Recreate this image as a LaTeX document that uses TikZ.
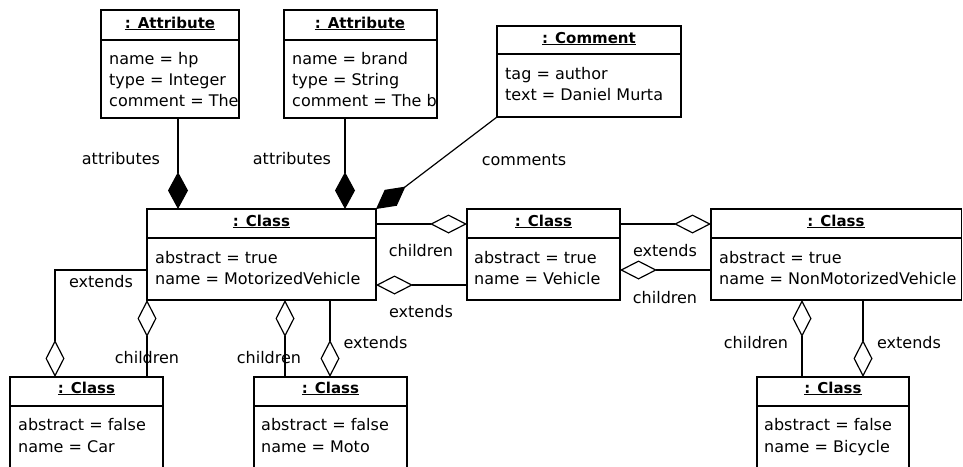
\documentclass[tikz,border=0pt]{standalone}
\usepackage{fontspec}
\setmainfont{DejaVu Sans}
\usetikzlibrary{arrows.meta}
\begin{document}
\begin{tikzpicture}[x=1pt,y=-1pt,
  box/.style={draw, line width=1.2pt, anchor=north west, inner sep=0pt, outer sep=0pt},
  txt/.style={anchor=base west, inner sep=0pt, font=\fontsize{16pt}{19pt}\selectfont},
  hdr/.style={anchor=base, inner sep=0pt, font=\bfseries\fontsize{15pt}{18pt}\selectfont},
  lbl/.style={anchor=base, inner sep=0pt, font=\fontsize{16pt}{19pt}\selectfont},
  conn/.style={line width=1.2pt},
  fd/.style={conn, -{Diamond[length=37pt,width=20pt]}},
  od/.style={conn, -{Diamond[open,length=37pt,width=19pt]}},
  sep/.style={line width=1.2pt}]
\clip (0,0) rectangle (963,466);

% ---------- boxes ----------
\node[box, minimum width=138pt, minimum height=108pt] (a1) at (101,10) {};
\node[box, minimum width=153pt, minimum height=108pt] (a2) at (284,10) {};
\node[box, minimum width=184pt, minimum height=91pt] (cm) at (497,26) {};
\node[box, minimum width=229pt, minimum height=91pt] (mv) at (147,209) {};
\node[box, minimum width=153pt, minimum height=91pt] (v) at (467,209) {};
\node[box, minimum width=250.5pt, minimum height=91pt] (nm) at (711,209) {};
\node[box, minimum width=153pt, minimum height=120pt] (car) at (10,377) {};
\node[box, minimum width=153pt, minimum height=120pt] (moto) at (254,377) {};
\node[box, minimum width=152pt, minimum height=120pt] (bi) at (757,377) {};

% ---------- header separators ----------
\draw[sep] ([yshift=-30pt]a1.north west) -- ([yshift=-30pt]a1.north east);
\draw[sep] ([yshift=-30pt]a2.north west) -- ([yshift=-30pt]a2.north east);
\draw[sep] ([yshift=-28pt]cm.north west) -- ([yshift=-28pt]cm.north east);
\draw[sep] ([yshift=-29pt]mv.north west) -- ([yshift=-29pt]mv.north east);
\draw[sep] ([yshift=-29pt]v.north west) -- ([yshift=-29pt]v.north east);
\draw[sep] ([yshift=-29pt]nm.north west) -- ([yshift=-29pt]nm.north east);
\draw[sep] ([yshift=-29pt]car.north west) -- ([yshift=-29pt]car.north east);
\draw[sep] ([yshift=-29pt]moto.north west) -- ([yshift=-29pt]moto.north east);
\draw[sep] ([yshift=-29pt]bi.north west) -- ([yshift=-29pt]bi.north east);

% ---------- headers ----------
\node[hdr] (a1h) at (170,28) {\underline{: Attribute}};
\node[hdr] (a2h) at (360,28) {\underline{: Attribute}};
\node[hdr] (cmh) at (589,43) {\underline{: Comment}};
\node[hdr] (mvh) at (261.5,226) {\underline{: Class}};
\node[hdr] (vh) at (543.5,226) {\underline{: Class}};
\node[hdr] (nmh) at (836,226) {\underline{: Class}};
\node[hdr] (carh) at (86.5,393) {\underline{: Class}};
\node[hdr] (motoh) at (330.5,393) {\underline{: Class}};
\node[hdr] (bih) at (833,393) {\underline{: Class}};

% ---------- bodies ----------
\begin{scope}
\clip (a1.north west) rectangle (a1.south east);
\node[txt] (a1t1) at (109,64) {name = hp};
\node[txt] (a1t2) at (109,85) {type = Integer};
\node[txt] (a1t3) at (109,106) {comment = The};
\end{scope}
\begin{scope}
\clip (a2.north west) rectangle (a2.south east);
\node[txt] (a2t1) at (292,64) {name = brand};
\node[txt] (a2t2) at (292,85) {type = String};
\node[txt] (a2t3) at (292,106) {comment = The b};
\end{scope}
\node[txt] (cmt1) at (505,79) {tag = author};
\node[txt] (cmt2) at (505,100) {text = Daniel Murta};
\node[txt] (mvt1) at (155,263) {abstract = true};
\node[txt] (mvt2) at (155,284) {name = MotorizedVehicle};
\node[txt] (vt1) at (474,263) {abstract = true};
\node[txt] (vt2) at (474,284) {name = Vehicle};
\node[txt] (nmt1) at (719,263) {abstract = true};
\node[txt] (nmt2) at (719,284) {name = NonMotorizedVehicle};
\node[txt] (cart1) at (18,430) {abstract = false};
\node[txt] (cart2) at (18,452) {name = Car};
\node[txt] (motot1) at (261,430) {abstract = false};
\node[txt] (motot2) at (261,452) {name = Moto};
\node[txt] (bit1) at (764,430) {abstract = false};
\node[txt] (bit2) at (764,452) {name = Bicycle};

% ---------- connectors ----------
\draw[fd] ([xshift=77pt]a1.south west) -- ([xshift=31pt]mv.north west);
\draw[fd] ([xshift=61pt]a2.south west) -- ([xshift=198pt]mv.north west);
\draw[fd] (cm.south west) -- (mv.north east);
\draw[od] ([yshift=-15pt]mv.north east) -- ([yshift=-15pt]v.north west);
\draw[od] ([yshift=-76pt]v.north west) -- ([yshift=-76pt]mv.north east);
\draw[od] ([yshift=-15pt]v.north east) -- ([yshift=-15pt]nm.north west);
\draw[od] ([yshift=-61pt]nm.north west) -- ([yshift=-61pt]v.north east);
\draw[od] ([yshift=-61pt]mv.north west) -| ([xshift=45pt]car.north west);
\draw[od] ([xshift=137pt]car.north west) -- (mv.south west);
\draw[od] ([xshift=31pt]moto.north west) -- ([xshift=138pt]mv.south west);
\draw[od] ([xshift=183pt]mv.south west) -- ([xshift=76pt]moto.north west);
\draw[od] ([xshift=45pt]bi.north west) -- ([xshift=91pt]nm.south west);
\draw[od] ([xshift=152pt]nm.south west) -- ([xshift=106pt]bi.north west);

% ---------- labels ----------
\node[lbl] (l1) at (121,164) {attributes};
\node[lbl] (l2) at (292,164) {attributes};
\node[lbl] (l3) at (524,165) {comments};
\node[lbl] (l4) at (421,256) {children};
\node[lbl] (l5) at (421,317) {extends};
\node[lbl] (l6) at (665,256) {extends};
\node[lbl] (l7) at (665,303) {children};
\node[lbl] (l8) at (101,287) {extends};
\node[lbl] (l9) at (147,363) {children};
\node[lbl] (l10) at (269,363) {children};
\node[lbl] (l11) at (375.5,348) {extends};
\node[lbl] (l12) at (756,348) {children};
\node[lbl] (l13) at (909,348) {extends};
\end{tikzpicture}
\end{document}
